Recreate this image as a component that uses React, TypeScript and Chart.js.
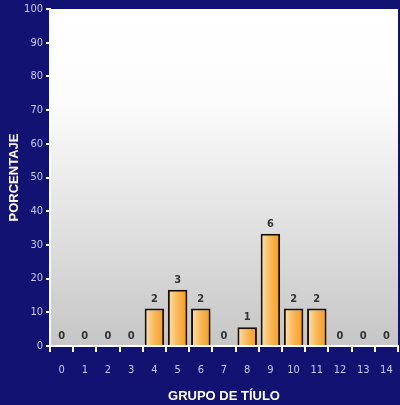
import React, { useEffect, useRef } from "react";
import { Chart, registerables } from "chart.js";

Chart.register(...registerables);

const categories = ["0", "1", "2", "3", "4", "5", "6", "7", "8", "9", "10", "11", "12", "13", "14"];
const percentages = [0, 0, 0, 0, 11.1, 16.7, 11.1, 0, 5.6, 33.3, 11.1, 11.1, 0, 0, 0];
const counts = ["0", "0", "0", "0", "2", "3", "2", "0", "1", "6", "2", "2", "0", "0", "0"];
const yTitle = "PORCENTAJE";
const xTitle = "GRUPO DE TÍULO";

const NAVY = "#121272";
const TICK_COLOR = "#c8c8ee";
const NARROW = '"Liberation Sans Narrow", "DejaVu Sans Condensed", "DejaVu Sans", sans-serif';
const BAR_PCT = 0.84;

const plotBg = {
  id: "plotBg",
  beforeDraw(chart: any) {
    const { ctx, chartArea } = chart;
    if (!chartArea) return;
    ctx.save();
    ctx.fillStyle = NAVY;
    ctx.fillRect(0, 0, chart.width, chart.height);
    const g = ctx.createLinearGradient(0, chartArea.top, 0, chartArea.bottom);
    g.addColorStop(0, "#ffffff");
    g.addColorStop(0.28, "#fcfcfc");
    g.addColorStop(1, "#c6c6c6");
    ctx.fillStyle = g;
    ctx.fillRect(chartArea.left, chartArea.top, chartArea.right - chartArea.left, chartArea.bottom - chartArea.top);
    ctx.restore();
  },
};

const countLabels = {
  id: "countLabels",
  afterDatasetsDraw(chart: any) {
    const { ctx } = chart;
    const meta = chart.getDatasetMeta(0);
    ctx.save();
    ctx.fillStyle = "#333333";
    ctx.font = `bold condensed 11px ${NARROW}`;
    ctx.textAlign = "center";
    ctx.textBaseline = "bottom";
    meta.data.forEach((el: any, i: number) => {
      ctx.fillText(counts[i], el.x, el.y - 4);
    });
    ctx.restore();
  },
};

export default function App() {
  const ref = useRef<HTMLCanvasElement>(null);
  useEffect(() => {
    if (!ref.current) return;
    const chart = new Chart(ref.current, {
      type: "bar",
      data: {
        labels: categories,
        datasets: [
          {
            data: percentages,
            backgroundColor: (c: any) => {
              const ch = c.chart;
              const xs = ch.scales && ch.scales.x;
              if (!ch.chartArea || !xs) return "#f8a838";
              const cx = xs.getPixelForValue(c.dataIndex);
              const w = ((ch.chartArea.right - ch.chartArea.left) / categories.length) * BAR_PCT;
              const g = ch.ctx.createLinearGradient(cx - w / 2, 0, cx + w / 2, 0);
              g.addColorStop(0, "#fde4b0");
              g.addColorStop(0.45, "#fbbb5c");
              g.addColorStop(1, "#f59a20");
              return g;
            },
            borderColor: "#1a1008",
            borderWidth: 2,
            barPercentage: BAR_PCT,
            categoryPercentage: 1,
          },
        ],
      },
      options: {
        responsive: false,
        animation: false,
        devicePixelRatio: 1,
        layout: { padding: { top: 9, right: 2, left: 0, bottom: 1 } },
        plugins: { legend: { display: false }, tooltip: { enabled: false } },
        scales: {
          x: {
            grid: { display: true, drawOnChartArea: false, color: "#ffffff", tickColor: "#ffffff", tickLength: 6, lineWidth: 2, offset: true },
            border: { color: "#ffffff", width: 2 },
            ticks: { color: TICK_COLOR, font: { family: NARROW, size: 11, style: "condensed" as any }, padding: 12, maxRotation: 0, autoSkip: false },
            title: { display: true, text: xTitle, color: "#ffffff", font: { family: '"Liberation Sans", Arial, sans-serif', size: 13, weight: "bold" }, padding: { top: 0, bottom: 0 } },
            afterFit: (s: any) => {
              s.height = 58;
              s.paddingLeft = 0;
              s.paddingRight = 0;
            },
          },
          y: {
            min: 0,
            max: 100,
            ticks: { stepSize: 10, color: TICK_COLOR, font: { family: NARROW, size: 11, style: "condensed" as any }, padding: 3 },
            grid: { display: true, drawOnChartArea: false, color: "#ffffff", tickColor: "#ffffff", tickLength: 4, lineWidth: 2 },
            border: { color: "#ffffff", width: 2 },
            title: { display: true, text: yTitle, color: "#ffffff", font: { family: '"Liberation Sans", Arial, sans-serif', size: 13, weight: "bold" }, padding: { top: 7, bottom: 0 } },
            afterFit: (s: any) => {
              s.width = 50;
              s.paddingTop = 0;
              s.paddingBottom = 0;
            },
          },
        },
      },
      plugins: [plotBg, countLabels],
    });
    return () => chart.destroy();
  }, []);
  return (
    <div style={{ position: "absolute", left: 0, top: 0, width: 400, height: 405, background: NAVY }}>
      <canvas ref={ref} width={400} height={405} style={{ display: "block" }} />
    </div>
  );
}
